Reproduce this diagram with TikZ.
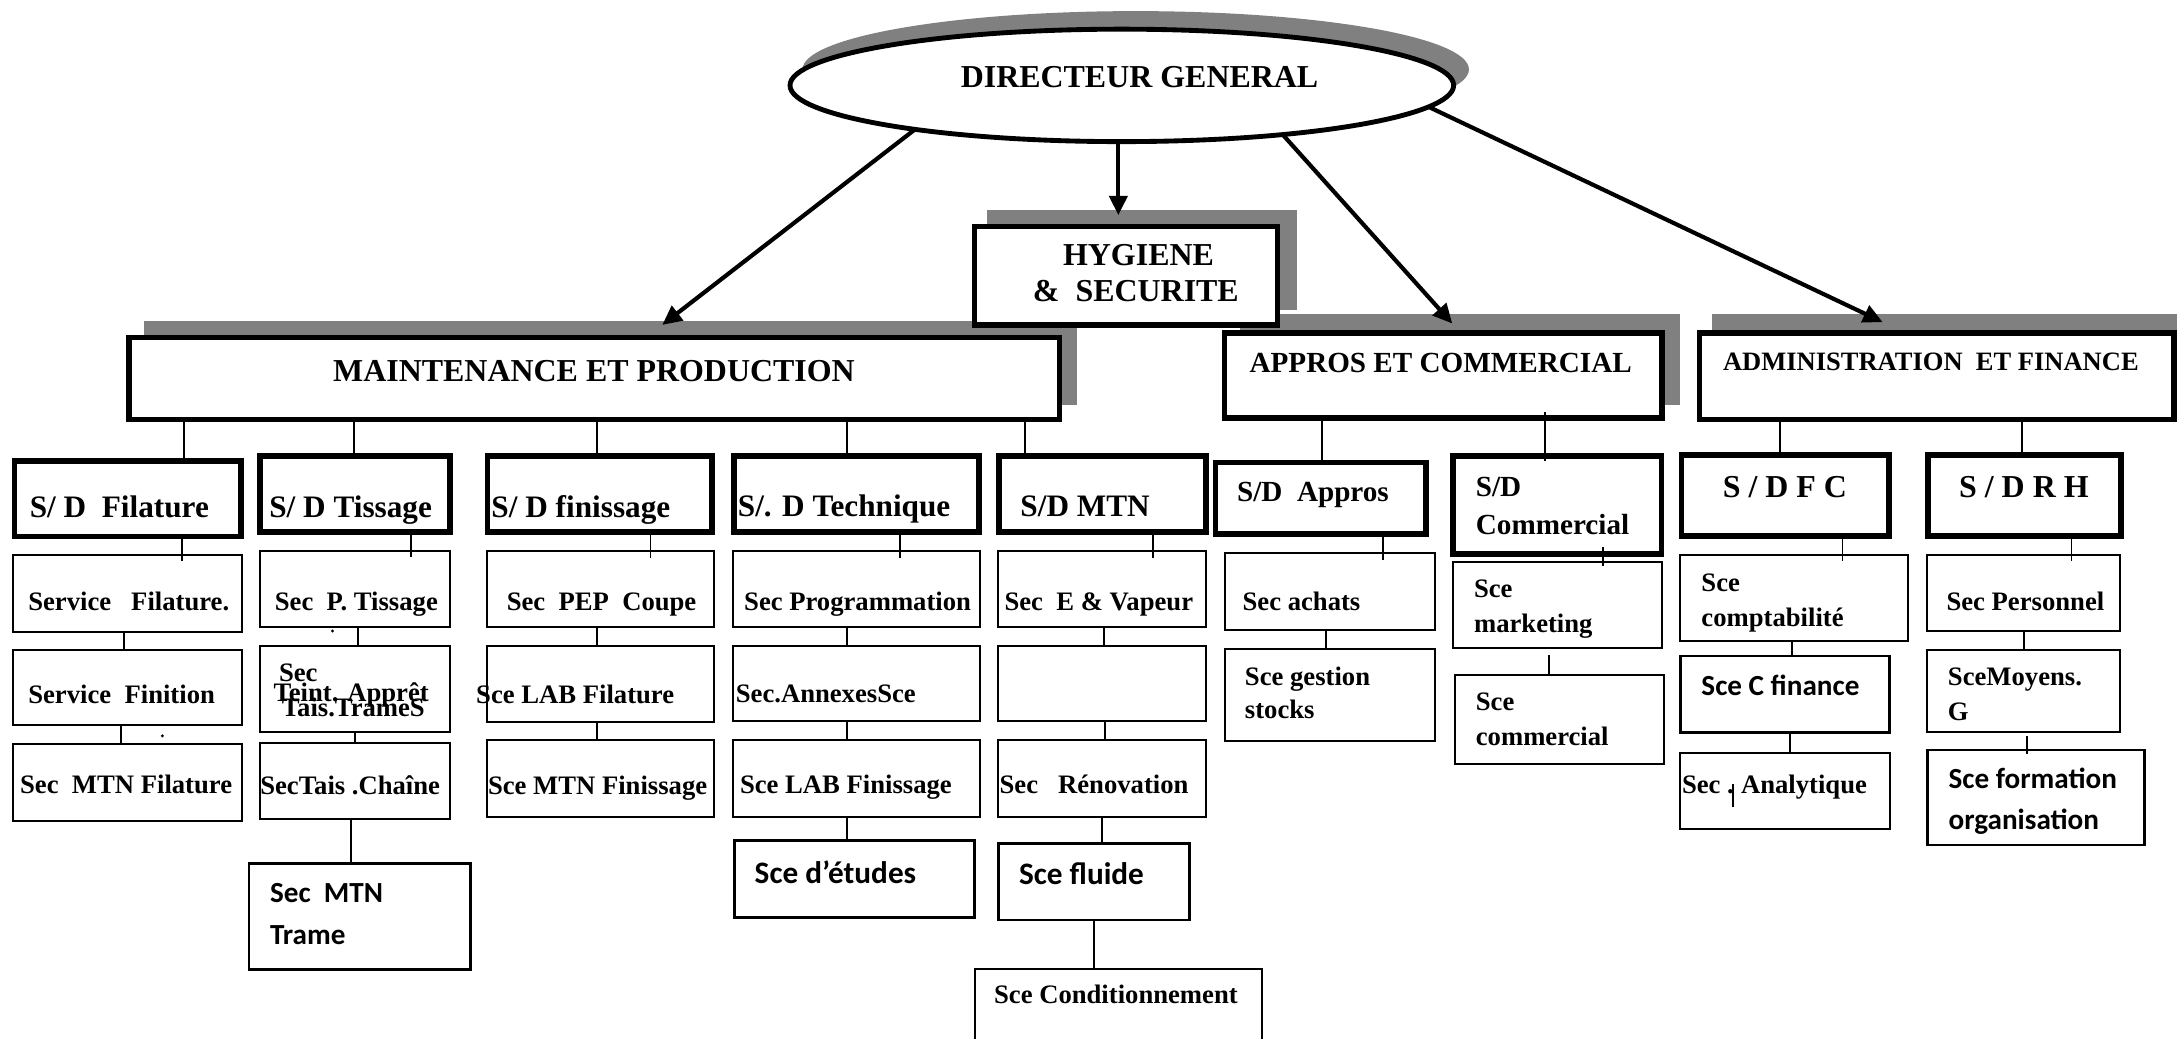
\documentclass[tikz,border=0pt]{standalone}
\usepackage{fontspec}
\setmainfont{Liberation Serif}
\newfontfamily\calfont{Carlito}
\usetikzlibrary{arrows.meta,shapes.geometric,calc}
\definecolor{shadowc}{RGB}{128,128,128}
\tikzset{
  thickbox/.style={rectangle, draw=black, line width=4pt, fill=white, inner sep=0pt, outer sep=0pt, anchor=north west},
  thinbox/.style={rectangle, draw=black, line width=1.4pt, fill=white, inner sep=0pt, outer sep=0pt, anchor=north west},
  calbox/.style={thinbox, line width=2pt},
  conn/.style={draw=black, line width=1.3pt},
  arr/.style={draw=black, line width=3pt, -{Triangle[length=14pt,width=13pt]}},
  tx/.style={inner sep=0pt, outer sep=0pt, anchor=base west, font=\bfseries\fontsize{#1}{#1}\selectfont},
  cx/.style={inner sep=0pt, outer sep=0pt, anchor=base west, font=\calfont\bfseries\fontsize{#1}{#1}\selectfont},
}
\newcommand\mkbox[6]{\node[#1, minimum width={#4-#2}, minimum height={#5-#3}] (#6) at (#2,#3) {};}
\begin{document}
\begin{tikzpicture}[x=1pt,y=-1pt]
\fill[white] (0,0) rectangle (1568,748);
\useasboundingbox (0,0) rectangle (1568,748);
% shadows
\fill[shadowc] (818,50) ellipse [x radius=240pt, y radius=42pt];
\fill[shadowc] (711,151) rectangle (934,223);
\fill[shadowc] (103.5,231) rectangle (776,292);
\fill[shadowc] (893,226) rectangle (1210,292);
\fill[shadowc] (1233,226) rectangle (1570,292);
% director
\node[ellipse, draw=black, line width=3.5pt, fill=white, inner sep=0pt, outer sep=0pt, minimum width=478pt, minimum height=81pt] (dg) at (808,61.5) {};
% top boxes
\mkbox{thickbox}{702}{163}{920}{234}{hyg}
\mkbox{thickbox}{93}{243}{763}{302}{maint}
\mkbox{thickbox}{882}{240}{1197}{301}{app}
\mkbox{thickbox}{1224}{240}{1566}{302}{adm}
% sub-directions
\mkbox{thickbox}{10.3}{331.9}{173.4}{386.4}{sdfil}
\mkbox{thickbox}{187.4}{328.3}{324}{383.1}{sdtis}
\mkbox{thickbox}{351}{328.3}{513}{383.1}{sdfin}
\mkbox{thickbox}{528.5}{328.3}{705}{383.1}{sdtech}
\mkbox{thickbox}{719.5}{328.3}{868.5}{383.1}{sdmtn}
\mkbox{thickbox}{875.3}{333.1}{1026.9}{384.7}{sdapp}
\mkbox{thickbox}{1046.6}{328.3}{1196.7}{399.2}{sdcom}
\mkbox{thickbox}{1211}{327.8}{1360.5}{386}{sdfc}
\mkbox{thickbox}{1388.5}{327.8}{1527.5}{386}{sdrh}
% services
\mkbox{thinbox}{9.6}{399.7}{174}{455}{servfil}
\mkbox{thinbox}{9.6}{468.2}{174}{522.5}{servfin}
\mkbox{thinbox}{9.6}{536}{174}{591}{mtnfil}
\mkbox{thinbox}{187.3}{396.9}{324.1}{451.8}{ptis}
\mkbox{thinbox}{187.3}{465}{324.1}{527.2}{teint}
\mkbox{thinbox}{187.3}{535.4}{324.1}{589.6}{chaine}
\mkbox{calbox}{179.3}{621.8}{339}{698.2}{trame}
\mkbox{thinbox}{350.5}{396.9}{514.3}{451.8}{pep}
\mkbox{thinbox}{350.5}{465}{514.3}{519.8}{labfil}
\mkbox{thinbox}{350.5}{533}{514.3}{588.2}{mtnfin}
\mkbox{thinbox}{528.2}{396.9}{705.9}{451.8}{prog}
\mkbox{thinbox}{528.2}{465}{705.9}{519.5}{annex}
\mkbox{thinbox}{528.2}{533}{705.9}{588.2}{labfin}
\mkbox{calbox}{529}{605.5}{702}{660.7}{etudes}
\mkbox{thinbox}{718.7}{396.9}{868.4}{451.8}{vap}
\mkbox{thinbox}{718.7}{465}{868.4}{519.5}{empty}
\mkbox{thinbox}{718.7}{533}{868.4}{588.2}{renov}
\mkbox{calbox}{719.4}{607.4}{857}{662.6}{fluide}
\mkbox{thinbox}{702}{697.7}{909}{760}{cond}
\mkbox{thinbox}{882.4}{398.5}{1033.3}{453.8}{achats}
\mkbox{thinbox}{882.4}{467.2}{1033.3}{534}{gest}
\mkbox{thinbox}{1046.8}{404.5}{1197.3}{467}{mkt}
\mkbox{thinbox}{1048}{486.2}{1198.5}{550}{comm}
\mkbox{thinbox}{1210.3}{399.7}{1374}{461.4}{compt}
\mkbox{calbox}{1210.3}{472.5}{1361}{527.5}{cfin}
\mkbox{thinbox}{1210.3}{542.6}{1361}{597.3}{analyt}
\mkbox{thinbox}{1388.2}{399.7}{1527}{454.4}{pers}
\mkbox{thinbox}{1388.2}{468.2}{1527}{527.2}{moy}
\mkbox{calbox}{1388.2}{540.2}{1544.5}{608.6}{form}
% texts
\node[tx=23] (tdg) at (692,63) {DIRECTEUR GENERAL};
\node[tx=23, anchor=base] (thyga) at (820,191) {HYGIENE};
\node[tx=23] (thygb) at (744,217) {\&~ SECURITE};
\node[tx=23] (tmaint) at (240,275) {MAINTENANCE ET PRODUCTION};
\node[tx=21] (tapp) at (900,268) {APPROS ET COMMERCIAL};
\node[tx=19.1] (tadm) at (1241,267) {ADMINISTRATION~ ET FINANCE};
\node[tx=22.5] (tsdfil) at (21.5,372.8) {S/ D~ Filature};
\node[tx=22.5] (tsdtis) at (194,372.6) {S/ D Tissage};
\node[tx=22.5] (tsdfin) at (354,372.6) {S/ D finissage};
\node[tx=22.5] (tsdtech) at (531.5,372) {S/. D Technique};
\node[tx=22.5] (tsdmtn) at (735,372) {S/D MTN};
\node[tx=21] (tsdapp) at (891,361.3) {S/D~ Appros};
\node[tx=21] (tsdcoma) at (1063,357.7) {S/D};
\node[tx=21] (tsdcomb) at (1063,384.9) {Commercial};
\node[tx=23, anchor=base] (tsdfc) at (1285.6,358.5) {S / D F C};
\node[tx=23, anchor=base] (tsdrh) at (1457.7,358.5) {S / D R H};
\node[tx=19.2] (tservfil) at (20.4,440) {Service~~ Filature.};
\node[tx=19.2] (tservfin) at (20.4,506.6) {Service~ Finition};
\node[tx=19.2] (tmtnfil) at (14.5,571.8) {Sec~ MTN Filature};
\node[tx=19.2] (tptis) at (198,440) {Sec~ P. Tissage};
\node[tx=19.2] (tteinta) at (201,491) {Sec};
\node[tx=19.2] (tteintb) at (197,505.4) {Teint. Apprêt};
\node[tx=19.2] (tteintc) at (203,515.7) {Tais.TrameS};
\node[tx=19.2] (tchaine) at (187.5,572) {SecTais .Chaîne};
\node[cx=21] (ttramea) at (194.5,650) {Sec~ MTN};
\node[cx=21] (ttrameb) at (194.5,680) {Trame};
\node[tx=19.2] (tpep) at (365,440) {Sec~ PEP~ Coupe};
\node[tx=19.2] (tlabfil) at (343,506.6) {Sce LAB Filature};
\node[tx=19.2] (tmtnfin) at (351.5,572) {Sce MTN Finissage};
\node[tx=19.2] (tprog) at (536,440) {Sec Programmation};
\node[tx=19.2] (tannex) at (530,506) {Sec.AnnexesSce};
\node[tx=19.2] (tlabfin) at (533,571.5) {Sce LAB Finissage};
\node[cx=22.5] (tetudes) at (543.6,636) {Sce d’études};
\node[tx=19.2] (tvap) at (723.5,440) {Sec~ E \& Vapeur};
\node[tx=19.2] (trenov) at (720,571.5) {Sec~~ Rénovation};
\node[cx=22.5] (tfluide) at (734,637) {Sce fluide};
\node[tx=19.2] (tcond) at (716,723) {Sce Conditionnement};
\node[tx=19.2] (tachats) at (895,439.8) {Sec achats};
\node[tx=19.2] (tgesta) at (896.7,493.4) {Sce gestion};
\node[tx=19.2] (tgestb) at (896.7,517.5) {stocks};
\node[tx=19.2] (tmkta) at (1061.7,430.2) {Sce};
\node[tx=19.2] (tmktb) at (1061.7,455.7) {marketing};
\node[tx=19.2] (tcomma) at (1063,511.4) {Sce};
\node[tx=19.2] (tcommb) at (1063,537) {commercial};
\node[tx=19.2] (tcompta) at (1225.5,426.2) {Sce};
\node[tx=19.2] (tcomptb) at (1225.5,451.4) {comptabilité};
\node[cx=21] (tcfin) at (1225.5,500.6) {Sce C finance};
\node[tx=19.2] (tanala) at (1211.5,571.4) {Sec .};
\node[tx=19.2] (tanalb) at (1254,571.4) {Analytique};
\node[tx=19.2] (tpers) at (1402,439.8) {Sec Personnel};
\node[tx=19.2] (tmoya) at (1403,493.9) {SceMoyens.};
\node[tx=19.2] (tmoyb) at (1403,518.6) {G};
\node[cx=21] (tforma) at (1403.5,567.8) {Sce formation};
\node[cx=21] (tformb) at (1403.5,597.3) {organisation};
% connectors top level
\draw[conn] (maint.south -| 132.8,0) -- (sdfil.north -| 132.8,0);
\draw[conn] (maint.south -| 255.2,0) -- (sdtis.north -| 255.2,0);
\draw[conn] (maint.south -| 430,0) -- (sdfin.north -| 430,0);
\draw[conn] (maint.south -| 610,0) -- (sdtech.north -| 610,0);
\draw[conn] (maint.south -| 738,0) -- (sdmtn.north -| 738,0);
\draw[conn] (app.south -| 952,0) -- (sdapp.north -| 952,0);
\draw[conn] ($(app.south -| 1113,0)+(0,-4)$) -- ($(sdcom.north -| 1113,0)+(0,4)$);
\draw[conn] (adm.south -| 1282.3,0) -- (sdfc.north -| 1282.3,0);
\draw[conn] (adm.south -| 1456.3,0) -- (sdrh.north -| 1456.3,0);
% connectors in columns
\draw[conn] (sdfil.south -| 130.9,0) -- (servfil.north -| 130.9,0) -- ++(0,4);
\draw[conn] (servfil.south -| 89.3,0) -- (servfin.north -| 89.3,0);
\draw[conn] (servfin.south -| 87,0) -- (mtnfil.north -| 87,0);
\draw[conn] (sdtis.south -| 295.8,0) -- (ptis.north -| 295.8,0) -- ++(0,4);
\draw[conn] (ptis.south -| 257.6,0) -- (teint.north -| 257.6,0);
\draw[conn] (teint.south -| 255.5,0) -- (chaine.north -| 255.5,0);
\draw[conn] (chaine.south -| 252.8,0) -- (trame.north -| 252.8,0);
\draw[conn] (sdfin.south -| 468.5,0) -- (pep.north -| 468.5,0) -- ++(0,5);
\draw[conn] (pep.south -| 430,0) -- (labfil.north -| 430,0);
\draw[conn] (labfil.south -| 430,0) -- (mtnfin.north -| 430,0);
\draw[conn] (sdtech.south -| 648,0) -- (prog.north -| 648,0) -- ++(0,5);
\draw[conn] (prog.south -| 610,0) -- (annex.north -| 610,0);
\draw[conn] (annex.south -| 610,0) -- (labfin.north -| 610,0);
\draw[conn] (labfin.south -| 610,0) -- (etudes.north -| 610,0);
\draw[conn] (sdmtn.south -| 830.6,0) -- (vap.north -| 830.6,0) -- ++(0,5);
\draw[conn] (vap.south -| 795,0) -- (empty.north -| 795,0);
\draw[conn] (empty.south -| 796,0) -- (renov.north -| 796,0);
\draw[conn] (renov.south -| 794,0) -- (fluide.north -| 794,0);
\draw[conn] (fluide.south -| 788,0) -- (cond.north -| 788,0);
\draw[conn] (sdapp.south -| 995.9,0) -- (achats.north -| 995.9,0) -- ++(0,4.5);
\draw[conn] (achats.south -| 955,0) -- (gest.north -| 955,0);
\draw[conn] ($(sdcom.south -| 1154.3,0)+(0,-5)$) -- (mkt.north -| 1154.3,0) -- ++(0,3.5);
\draw[conn] ($(mkt.south -| 1115.9,0)+(0,5)$) -- (comm.north -| 1115.9,0);
\draw[conn] (sdfc.south -| 1327,0) -- (compt.north -| 1327,0) -- ++(0,4);
\draw[conn] (compt.south -| 1290.5,0) -- (cfin.north -| 1290.5,0);
\draw[conn] (cfin.south -| 1289,0) -- (analyt.north -| 1289,0);
\draw[conn] (sdrh.south -| 1492,0) -- (pers.north -| 1492,0) -- ++(0,4);
\draw[conn] (pers.south -| 1458,0) -- (moy.north -| 1458,0);
\draw[conn] ($(moy.south -| 1460,0)+(0,3)$) -- (form.north -| 1460,0) -- ++(0,3);
% small marks
\draw[conn] (1248,564.5) -- (1248,581.5);
\fill (239.5,454.5) circle (1.2pt);
\fill (117,530) circle (1.2pt);
% arrows
\coordinate (aa) at (477,234);
\coordinate (ab) at (805.5,155);
\coordinate (ac) at (1046,233);
\coordinate (ad) at (1356,232);
\draw[arr] (dg.192) -- (aa);
\draw[arr] (dg.south -| ab) -- (ab);
\draw[arr] (dg.343) -- (ac);
\draw[arr] (dg.356) -- (ad);
\end{tikzpicture}
\end{document}
